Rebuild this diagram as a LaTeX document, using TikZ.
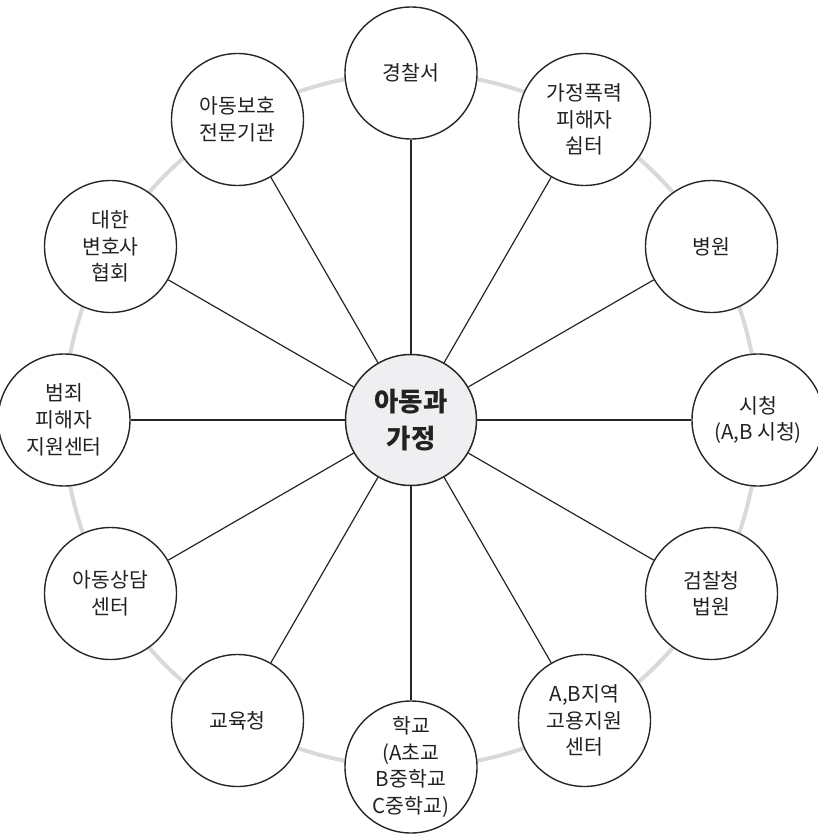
\documentclass[tikz,border=0pt]{standalone}
\usepackage{fontspec}
\setmainfont{Noto Sans CJK KR}
\definecolor{ringgray}{HTML}{D9D9D9}
\definecolor{txt}{HTML}{222222}
\definecolor{hubfill}{HTML}{EFEFF1}
\begin{document}
\begin{tikzpicture}[x=1pt,y=-1pt,
  outer/.style={circle,draw=black!85,line width=1.4pt,fill=white,minimum size=132pt,inner sep=0pt,align=center,text=txt,font=\fontsize{20.5}{26.7}\selectfont},
  hub/.style={circle,draw=black!85,line width=1.5pt,fill=hubfill,minimum size=131pt,inner sep=0pt,align=center,text=txt,font=\fontsize{26.5}{37}\selectfont\bfseries},
  spoke/.style={draw=black!85,line width=1.2pt}]
\useasboundingbox (0,0) rectangle (818,837);
\coordinate (o) at (411,420);
\draw[ringgray,line width=4pt] (o) circle[radius=347];
\node[hub] (c) at (o) {아동과\\가정};
\node[outer] (n1) at (411,73) {경찰서};
\node[outer] (n2) at (584.5,119.5) {가정폭력\\피해자\\쉼터};
\node[outer] (n3) at (711.5,246.5) {병원};
\node[outer] (n4) at (758,420) {시청\\(A,B 시청)};
\node[outer] (n5) at (711.5,593.5) {검찰청\\법원};
\node[outer] (n6) at (584.5,720.5) {A,B지역\\고용지원\\센터};
\node[outer] (n7) at (411,767) {학교\\(A초교\\B중학교\\C중학교)};
\node[outer] (n8) at (237.5,720.5) {교육청};
\node[outer] (n9) at (110.5,593.5) {아동상담\\센터};
\node[outer] (n10) at (64,420) {범죄\\피해자\\지원센터};
\node[outer] (n11) at (110.5,246.5) {대한\\변호사\\협회};
\node[outer] (n12) at (237.5,119.5) {아동보호\\전문기관};
\foreach \i in {1,...,12} \draw[spoke] (c) -- (n\i);
\end{tikzpicture}
\end{document}
